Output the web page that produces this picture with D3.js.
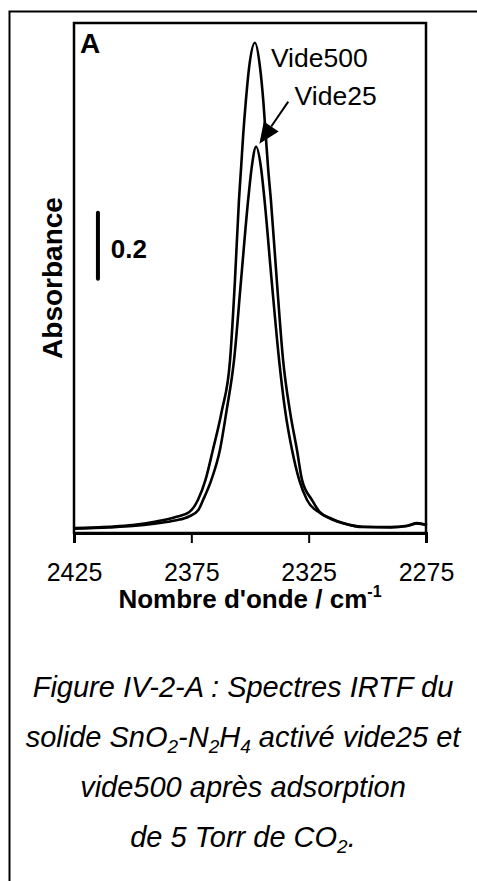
<!DOCTYPE html>
<html>
<head>
<meta charset="utf-8">
<script src="https://cdn.jsdelivr.net/npm/d3@7"></script>
<style>
  body { margin: 0; background: #fff; }
  svg { display: block; }
  text { font-family: "Liberation Sans", Arial, sans-serif; fill: #000; }
</style>
</head>
<body>
<svg id="chart"></svg>
<script>
// wavenumbers (cm-1) and absorbance
var wave500 = [2425, 2410, 2400, 2390, 2382, 2376, 2372.2, 2369, 2365.8, 2362, 2358.5, 2356.4, 2354.7, 2353.8, 2352.9, 2351.8, 2350.4, 2347.9, 2345.7, 2344.3, 2343.3, 2342.3, 2341.1, 2338.6, 2335.9, 2333, 2330, 2327.8, 2323.6, 2320.2, 2315, 2310.4, 2302, 2290, 2283, 2278.8, 2274.6];
var abs500  = [0.015, 0.019, 0.024, 0.035, 0.048, 0.063, 0.100, 0.160, 0.252, 0.370, 0.524, 0.767, 1.009, 1.106, 1.206, 1.306, 1.409, 1.485, 1.409, 1.306, 1.206, 1.106, 1.009, 0.767, 0.524, 0.370, 0.252, 0.160, 0.100, 0.063, 0.043, 0.030, 0.019, 0.018, 0.022, 0.030, 0.024];

var wave25 = [2425, 2410, 2400, 2390, 2382, 2376, 2372, 2370, 2366.5, 2362.8, 2360, 2356.8, 2353.8, 2350.7, 2349.3, 2347.4, 2345.3, 2343.9, 2340.8, 2337.6, 2335, 2332.1, 2329, 2325.7, 2320, 2315, 2310, 2302, 2290, 2283, 2278.8, 2274.6];
var abs25  = [0.013, 0.017, 0.021, 0.029, 0.038, 0.050, 0.070, 0.100, 0.160, 0.252, 0.370, 0.524, 0.767, 1.015, 1.106, 1.170, 1.106, 1.015, 0.767, 0.524, 0.370, 0.252, 0.160, 0.100, 0.060, 0.041, 0.029, 0.018, 0.017, 0.021, 0.029, 0.023];

var xTicks = [2425, 2375, 2325, 2275];
var seriesNames = ["Vide500", "Vide25"];
var scaleBar = 0.2;

var width = 477, height = 881;
var margin = {top: 23, right: 51, bottom: 348, left: 74};

var svg = d3.select('#chart')
    .attr('width', width)
    .attr('height', height);

// outer figure frame
svg.append('rect')
    .attr('x', 9.5).attr('y', 11.5)
    .attr('width', 520).attr('height', 900)
    .attr('fill', 'none').attr('stroke', '#000').attr('stroke-width', 2);

var xScale = d3.scaleLinear()
    .domain([2425, 2275])
    .range([margin.left, width - margin.right]);

var yScale = d3.scaleLinear()
    .domain([0, 1.545])
    .range([height - margin.bottom, margin.top]);

var x0 = xScale.range()[0], x1 = xScale.range()[1];
var yb = yScale.range()[0], yt = yScale.range()[1];

// plot frame
svg.append('rect')
    .attr('x', x0).attr('y', yt)
    .attr('width', x1 - x0).attr('height', yb - yt)
    .attr('fill', 'none').attr('stroke', '#000').attr('stroke-width', 2.5);

// x axis
var xAxis = d3.axisBottom(xScale)
    .tickValues(xTicks)
    .tickFormat(d3.format('d'))
    .tickSize(10)
    .tickPadding(20);

var gx = svg.append('g')
    .attr('transform', 'translate(0,' + yb + ')')
    .call(xAxis);
gx.select('.domain').attr('stroke-width', 3);
gx.selectAll('.tick line').attr('stroke-width', 2);
gx.selectAll('.tick text')
    .style('font-size', '25px')
    .style('font-family', '"Liberation Sans", Arial, sans-serif');

// spectra
var line = d3.line()
    .x(function(d){ return xScale(d[0]); })
    .y(function(d){ return yScale(d[1]); })
    .curve(d3.curveMonotoneX);

[[wave500, abs500], [wave25, abs25]].forEach(function(s){
    var pts = s[0].map(function(w, i){ return [w, s[1][i]]; });
    svg.append('path')
        .datum(pts)
        .attr('d', line)
        .attr('fill', 'none')
        .attr('stroke', '#000')
        .attr('stroke-width', 2.6);
});

// panel letter
svg.append('text')
    .attr('x', x0 + 6).attr('y', 53)
    .style('font-size', '28px').style('font-weight', 'bold')
    .text('A');

// scale bar
svg.append('line')
    .attr('x1', xScale(2414.8)).attr('x2', xScale(2414.8))
    .attr('y1', yScale(0.77)).attr('y2', yScale(0.77 + scaleBar))
    .attr('stroke', '#000').attr('stroke-width', 4).attr('stroke-linecap', 'round');
svg.append('text')
    .attr('x', xScale(2409.3)).attr('y', yScale(0.834))
    .style('font-size', '26px').style('font-weight', 'bold')
    .text(scaleBar.toFixed(1));

// series labels
svg.append('text')
    .attr('x', xScale(2341.1)).attr('y', yScale(1.412))
    .style('font-size', '26.5px')
    .text(seriesNames[0]);
svg.append('text')
    .attr('x', xScale(2331.0)).attr('y', yScale(1.297))
    .style('font-size', '26.5px')
    .text(seriesNames[1]);

// arrow to Vide25
var ax1 = xScale(2333.7), ay1 = yScale(1.307);
var ax2 = xScale(2346.0), ay2 = yScale(1.179);
var ang = Math.atan2(ay2 - ay1, ax2 - ax1);
var headL = 21, headW = 9;
var bx = ax2 - headL * Math.cos(ang), by = ay2 - headL * Math.sin(ang);
svg.append('line')
    .attr('x1', ax1).attr('y1', ay1).attr('x2', bx).attr('y2', by)
    .attr('stroke', '#000').attr('stroke-width', 2);
svg.append('path')
    .attr('d', 'M' + ax2 + ',' + ay2 +
        'L' + (bx + headW * Math.sin(ang)) + ',' + (by - headW * Math.cos(ang)) +
        'L' + (bx - headW * Math.sin(ang)) + ',' + (by + headW * Math.cos(ang)) + 'Z')
    .attr('fill', '#000');

// axis titles
svg.append('text')
    .attr('transform', 'translate(62,' + ((yt + yb) / 2) + ') rotate(-90)')
    .attr('text-anchor', 'middle')
    .style('font-size', '28px').style('font-weight', 'bold')
    .text('Absorbance');

var xt = svg.append('text')
    .attr('x', (x0 + x1) / 2).attr('y', 608)
    .attr('text-anchor', 'middle')
    .style('font-size', '26px').style('font-weight', 'bold');
xt.append('tspan').text("Nombre d'onde / cm");
xt.append('tspan').attr('dy', -11).style('font-size', '16px').text('-1');

// caption
var capX = 243;
var cap = [
    [["Figure IV-2-A : Spectres IRTF du", 0]],
    [["solide SnO", 0], ["2", 1], ["-N", 0], ["2", 1], ["H", 0], ["4", 1], [" activé vide25 et", 0]],
    [["vide500 après adsorption", 0]],
    [["de 5 Torr de CO", 0], ["2", 1], [".", 0]]
];
cap.forEach(function(parts, i){
    var t = svg.append('text')
        .attr('x', capX).attr('y', 697 + i * 50)
        .attr('text-anchor', 'middle')
        .style('font-size', '29px').style('font-style', 'italic');
    var sub = false;
    parts.forEach(function(p){
        var dy = 0;
        if (p[1] && !sub) { dy = 6; sub = true; }
        else if (!p[1] && sub) { dy = -6; sub = false; }
        t.append('tspan')
            .attr('dy', dy)
            .style('font-size', p[1] ? '19px' : '29px')
            .text(p[0]);
    });
});
</script>
</body>
</html>
